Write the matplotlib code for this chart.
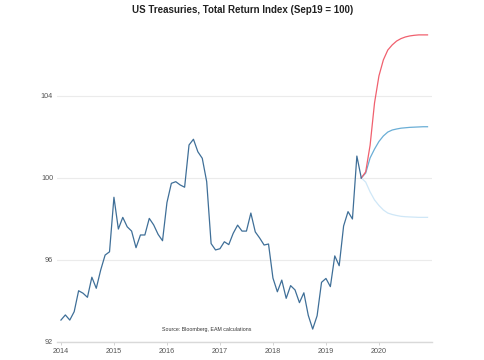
import matplotlib
matplotlib.use("Agg")
import matplotlib.pyplot as plt
import numpy as np

# Historical total return index, monthly Jan 2014 .. Sep 2019
hist_values = [
    93.07, 93.32, 93.07, 93.48, 94.50, 94.38, 94.18, 95.16, 94.62, 95.51, 96.24, 96.40,
    99.06, 97.51, 98.08, 97.62, 97.41, 96.60, 97.22, 97.22, 98.03, 97.71, 97.25, 96.94,
    98.80, 99.74, 99.82, 99.66, 99.55, 101.61, 101.89, 101.28, 100.96, 99.82, 96.80, 96.49,
    96.55, 96.89, 96.75, 97.30, 97.70, 97.41, 97.41, 98.29, 97.37, 97.07, 96.73, 96.78,
    95.12, 94.45, 95.02, 94.13, 94.75, 94.54, 93.92, 94.40, 93.30, 92.63, 93.28, 94.91,
    95.10, 94.70, 96.20, 95.72, 97.66, 98.36, 98.00, 101.07, 100.00,
]
hist_start_year = 2014

# Scenario paths, monthly Sep 2019 .. Dec 2020
bull_values = [100.0, 100.30, 101.60, 103.66, 104.98, 105.76, 106.24, 106.49,
               106.68, 106.80, 106.88, 106.93, 106.96, 106.98, 106.98, 106.98]
base_values = [100.0, 100.24, 100.98, 101.41, 101.78, 102.05, 102.24, 102.34,
               102.39, 102.43, 102.45, 102.47, 102.48, 102.49, 102.50, 102.50]
bear_values = [100.0, 99.80, 99.32, 98.93, 98.66, 98.44, 98.29, 98.22,
               98.17, 98.13, 98.11, 98.10, 98.09, 98.08, 98.08, 98.08]
proj_start = 2019 + 8 / 12

year_ticks = [2014, 2015, 2016, 2017, 2018, 2019, 2020]
y_ticks = [92, 96, 100, 104]

title = "US Treasuries, Total Return Index (Sep19 = 100)"
source = "Source: Bloomberg, EAM calculations"

plt.rcParams['font.family'] = ['Liberation Sans', 'DejaVu Sans']

fig = plt.figure(figsize=(4.85, 3.6), dpi=100)
ax = fig.add_axes([0.118, 0.05, 0.7726, 0.8656])

hx = hist_start_year + np.arange(len(hist_values)) / 12
px = proj_start + np.arange(len(bull_values)) / 12

ax.plot(px, bear_values, color="#cfe7f7", lw=0.9, zorder=3)
ax.plot(px, base_values, color="#6aaed6", lw=0.9, zorder=3)
ax.plot(px, bull_values, color="#f0606e", lw=0.9, zorder=3)
ax.plot(hx, hist_values, color="#3f6f98", lw=0.9, zorder=4)

ax.set_xlim(2013.93, 2021.0)
ax.set_ylim(92, 107.2)
ax.set_yticks(y_ticks)
ax.set_yticklabels([str(v) for v in y_ticks])
ax.set_xticks(year_ticks)
ax.set_xticklabels([str(v) for v in year_ticks])

ax.grid(axis="y", color="#ebebeb", lw=0.8)
ax.grid(axis="x", visible=False)
ax.set_axisbelow(True)
for s in ["top", "right", "left"]:
    ax.spines[s].set_visible(False)
ax.spines["bottom"].set_color("#d9d9d9")
ax.spines["bottom"].set_linewidth(1.0)

ax.tick_params(axis="y", length=0, pad=3, labelsize=5.2, labelcolor="#555555")
ax.tick_params(axis="x", length=2.5, width=0.6, color="#cccccc", pad=1.5,
               labelsize=5.2, labelcolor="#555555")

ax.text(2016.75, 92.63, source, ha="center", va="center", fontsize=3.8, color="#333333")
fig.text(0.5, 0.972, title, ha="center", va="center", fontsize=7, fontweight="bold",
         color="#222222")

fig.savefig("out.png", dpi=100)
